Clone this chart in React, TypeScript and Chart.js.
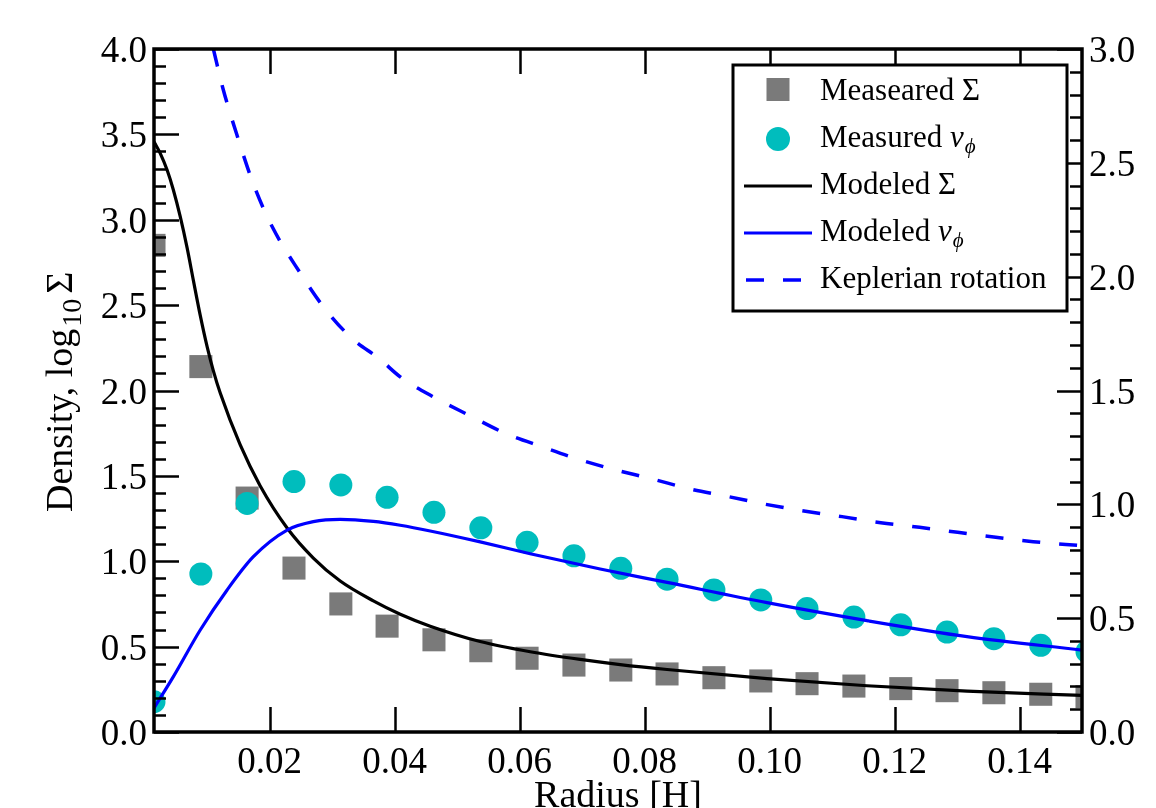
import React, { useEffect, useRef } from "react";
import { Chart, registerables } from "chart.js";

Chart.register(...registerables);

// ---------- data ----------
const radius = [
  0.0015, 0.009, 0.0164, 0.0239, 0.0314, 0.0388, 0.0463, 0.0538, 0.0612, 0.0687, 0.0762,
  0.0836, 0.0911, 0.0986, 0.106, 0.1135, 0.121, 0.1284, 0.1359, 0.1434, 0.1508,
];
const measuredSigma = [
  2.85, 2.14, 1.37, 0.96, 0.75, 0.62, 0.54, 0.476, 0.432, 0.392, 0.363, 0.34, 0.318, 0.299,
  0.283, 0.269, 0.254, 0.242, 0.23, 0.221, 0.207,
];
const measuredVphi = [
  0.133, 0.694, 1.004, 1.1, 1.085, 1.031, 0.965, 0.897, 0.833, 0.774, 0.719, 0.671, 0.624,
  0.58, 0.542, 0.505, 0.471, 0.439, 0.41, 0.381, 0.353,
];

const modelSigmaR = [
  0.0015, 0.0025, 0.0036, 0.0046, 0.0057, 0.0068, 0.0078, 0.0089, 0.01, 0.011, 0.0121,
  0.0153, 0.0185, 0.0228, 0.027, 0.0313, 0.0366, 0.0409, 0.0457, 0.0537, 0.0617, 0.0697,
  0.0761, 0.0836, 0.0996, 0.1156, 0.1316, 0.15,
];
const modelSigmaVal = [
  3.457, 3.389, 3.291, 3.174, 3.018, 2.835, 2.645, 2.44, 2.257, 2.115, 1.985, 1.681, 1.441,
  1.195, 1.019, 0.884, 0.768, 0.69, 0.62, 0.53, 0.47, 0.425, 0.395, 0.366, 0.313, 0.271,
  0.239, 0.214,
];

const modelVphiR = [
  0.0015, 0.0046, 0.0089, 0.0132, 0.0174, 0.0228, 0.027, 0.0313, 0.0366, 0.0409, 0.0457,
  0.0537, 0.0617, 0.0729, 0.0836, 0.0996, 0.1156, 0.1316, 0.15,
];
const modelVphiVal = [
  0.105, 0.243, 0.448, 0.624, 0.77, 0.887, 0.924, 0.934, 0.925, 0.908, 0.883, 0.835, 0.783,
  0.716, 0.657, 0.568, 0.489, 0.419, 0.36,
];

const keplerR = [
  0.011, 0.0125, 0.0148, 0.0175, 0.0204, 0.0249, 0.0286, 0.0329, 0.0377, 0.0409, 0.046,
  0.052, 0.0577, 0.0636, 0.0694, 0.075, 0.0813, 0.0873, 0.0934, 0.0994, 0.1055, 0.1116,
  0.1178, 0.124, 0.1301, 0.1362, 0.1422, 0.15,
];
const keplerVal = [
  3.0, 2.83, 2.62, 2.4, 2.22, 2.016, 1.868, 1.736, 1.636, 1.56, 1.475, 1.39, 1.312, 1.253,
  1.198, 1.154, 1.111, 1.067, 1.034, 1.0, 0.971, 0.946, 0.919, 0.899, 0.877, 0.855, 0.836,
  0.818,
];

const xTicks = [0.02, 0.04, 0.06, 0.08, 0.1, 0.12, 0.14];
const xTickLabels = ["0.02", "0.04", "0.06", "0.08", "0.10", "0.12", "0.14"];
const yLeftTicks = [0, 0.5, 1, 1.5, 2, 2.5, 3, 3.5, 4];
const yLeftTickLabels = ["0.0", "0.5", "1.0", "1.5", "2.0", "2.5", "3.0", "3.5", "4.0"];
const yRightTicks = [0, 0.5, 1, 1.5, 2, 2.5, 3];
const yRightTickLabels = ["0.0", "0.5", "1.0", "1.5", "2.0", "2.5", "3.0"];

const xTitle = "Radius [H]";
const yTitleMain = "Density, log";
const yTitleSub = "10";
const yTitleEnd = "Σ";

const legendMeasSigma = "Measeared Σ";
const legendMeasV = "Measured ";
const legendModSigma = "Modeled Σ";
const legendModV = "Modeled ";
const legendKepler = "Keplerian rotation";

const GRAY = "#7a7a7a";
const CYAN = "#00bdbd";
const BLUE = "#0000ff";
const SERIF = "'Liberation Serif', 'Times New Roman', serif";

const toPoints = (xs: number[], ys: number[]) => xs.map((x, i) => ({ x, y: ys[i] }));

const framePlugin = {
  id: "xmgraceFrame",
  afterDraw(chart: any) {
    const { ctx, chartArea: a, scales } = chart;
    const sx = scales.x;
    const sl = scales.y;
    const sr = scales.y2;
    ctx.save();

    // tick marks (inward)
    ctx.strokeStyle = "#000";
    ctx.lineWidth = 2.5;
    ctx.beginPath();
    for (const t of xTicks) {
      const px = Math.round(sx.getPixelForValue(t)) + 0.5;
      ctx.moveTo(px, a.bottom);
      ctx.lineTo(px, a.bottom - 25);
      ctx.moveTo(px, a.top);
      ctx.lineTo(px, a.top + 25);
    }
    for (let i = 0; i <= 40; i++) {
      const v = i / 10;
      const major = i % 5 === 0;
      const py = Math.round(sl.getPixelForValue(v)) + 0.5;
      ctx.moveTo(a.left, py);
      ctx.lineTo(a.left + (major ? 25 : 12), py);
    }
    for (let i = 0; i <= 30; i++) {
      const v = i / 10;
      const major = i % 5 === 0;
      const py = Math.round(sr.getPixelForValue(v)) + 0.5;
      ctx.moveTo(a.right, py);
      ctx.lineTo(a.right - (major ? 25 : 12), py);
    }
    ctx.stroke();

    // frame
    ctx.lineWidth = 3.5;
    ctx.strokeRect(a.left, a.top, a.right - a.left, a.bottom - a.top);

    // tick labels
    ctx.fillStyle = "#000";
    ctx.font = `37px ${SERIF}`;
    ctx.textBaseline = "alphabetic";
    ctx.textAlign = "center";
    xTicks.forEach((t, i) => {
      ctx.fillText(xTickLabels[i], sx.getPixelForValue(t), 773);
    });
    ctx.textAlign = "right";
    yLeftTicks.forEach((t, i) => {
      ctx.fillText(yLeftTickLabels[i], a.left - 7, sl.getPixelForValue(t) + 13);
    });
    ctx.textAlign = "left";
    yRightTicks.forEach((t, i) => {
      ctx.fillText(yRightTickLabels[i], a.right + 7, sr.getPixelForValue(t) + 13);
    });

    // axis titles
    ctx.font = `38px ${SERIF}`;
    ctx.textAlign = "center";
    ctx.fillText(xTitle, (a.left + a.right) / 2, 807);

    ctx.save();
    ctx.translate(72, 512);
    ctx.rotate(-Math.PI / 2);
    ctx.textAlign = "left";
    ctx.font = `38px ${SERIF}`;
    ctx.fillText(yTitleMain, 0, 0);
    let off = ctx.measureText(yTitleMain).width + 2;
    ctx.font = `28px ${SERIF}`;
    ctx.fillText(yTitleSub, off, 9);
    off += ctx.measureText(yTitleSub).width + 5;
    ctx.font = `38px ${SERIF}`;
    ctx.fillText(yTitleEnd, off, 0);
    ctx.restore();

    // legend box
    const L = 733, T = 65, R = 1067, B = 311;
    ctx.fillStyle = "#fff";
    ctx.fillRect(L, T, R - L, B - T);
    ctx.strokeStyle = "#000";
    ctx.lineWidth = 3;
    ctx.strokeRect(L, T, R - L, B - T);

    const tx = 820;
    const rows = [100, 147, 194, 241, 288];
    ctx.fillStyle = GRAY;
    ctx.fillRect(778 - 11.5, rows[0] - 10.5 - 11.5, 23, 23);
    ctx.fillStyle = CYAN;
    ctx.beginPath();
    ctx.arc(778, rows[1] - 8, 12, 0, Math.PI * 2);
    ctx.fill();
    ctx.lineWidth = 3.2;
    ctx.strokeStyle = "#000";
    ctx.beginPath();
    ctx.moveTo(744, rows[2] - 8);
    ctx.lineTo(812, rows[2] - 8);
    ctx.stroke();
    ctx.strokeStyle = BLUE;
    ctx.beginPath();
    ctx.moveTo(744, rows[3] - 8);
    ctx.lineTo(812, rows[3] - 8);
    ctx.stroke();
    ctx.lineWidth = 3.5;
    ctx.setLineDash([18, 19]);
    ctx.beginPath();
    ctx.moveTo(746, rows[4] - 8);
    ctx.lineTo(802, rows[4] - 8);
    ctx.stroke();
    ctx.setLineDash([]);

    ctx.fillStyle = "#000";
    ctx.textAlign = "left";
    const drawV = (prefix: string, y: number) => {
      ctx.font = `31px ${SERIF}`;
      ctx.fillText(prefix, tx, y);
      let w = ctx.measureText(prefix).width;
      ctx.font = `italic 31px ${SERIF}`;
      ctx.fillText("v", tx + w, y);
      w += ctx.measureText("v").width;
      ctx.font = `italic 21px ${SERIF}`;
      ctx.fillText("ϕ", tx + w + 1, y + 6);
    };
    ctx.font = `31px ${SERIF}`;
    ctx.fillText(legendMeasSigma, tx, rows[0]);
    drawV(legendMeasV, rows[1]);
    ctx.font = `31px ${SERIF}`;
    ctx.fillText(legendModSigma, tx, rows[2]);
    drawV(legendModV, rows[3]);
    ctx.font = `31px ${SERIF}`;
    ctx.fillText(legendKepler, tx, rows[4]);

    ctx.restore();
  },
};

export default function App() {
  const canvasRef = useRef<HTMLCanvasElement | null>(null);

  useEffect(() => {
    const canvas = canvasRef.current;
    if (!canvas) return;
    const chart = new Chart(canvas, {
      type: "line",
      data: {
        datasets: [
          {
            label: "Keplerian rotation",
            data: toPoints(keplerR, keplerVal),
            yAxisID: "y2",
            borderColor: BLUE,
            borderWidth: 3.5,
            borderDash: [18, 19],
            pointRadius: 0,
            fill: false,
            cubicInterpolationMode: "monotone",
            clip: 0,
          },
          {
            label: "Modeled v",
            data: toPoints(modelVphiR, modelVphiVal),
            yAxisID: "y2",
            borderColor: BLUE,
            borderWidth: 3.2,
            pointRadius: 0,
            fill: false,
            cubicInterpolationMode: "monotone",
            clip: 0,
          },
          {
            label: "Modeled Sigma",
            data: toPoints(modelSigmaR, modelSigmaVal),
            yAxisID: "y",
            borderColor: "#000",
            borderWidth: 3.2,
            pointRadius: 0,
            fill: false,
            cubicInterpolationMode: "monotone",
            clip: 0,
          },
          {
            label: "Measured v",
            data: toPoints(radius, measuredVphi),
            yAxisID: "y2",
            showLine: false,
            pointStyle: "circle",
            pointRadius: 11.5,
            pointBorderWidth: 0,
            pointBackgroundColor: CYAN,
            pointBorderColor: CYAN,
            clip: 0,
          },
          {
            label: "Measeared Sigma",
            data: toPoints(radius, measuredSigma),
            yAxisID: "y",
            showLine: false,
            pointStyle: "rect",
            pointRadius: 16.3,
            pointBorderWidth: 0,
            pointBackgroundColor: GRAY,
            pointBorderColor: GRAY,
            clip: 0,
          },
        ],
      },
      options: {
        responsive: false,
        maintainAspectRatio: false,
        devicePixelRatio: 1,
        animation: false,
        events: [],
        layout: { padding: { left: 154, right: 74, top: 49, bottom: 76 } },
        plugins: { legend: { display: false }, tooltip: { enabled: false } },
        scales: {
          x: { type: "linear", min: 0.0015, max: 0.15, display: false },
          y: { type: "linear", min: 0, max: 4, display: false },
          y2: { type: "linear", min: 0, max: 3, display: false, position: "right" },
        },
      },
      plugins: [framePlugin],
    } as any);
    return () => chart.destroy();
  }, []);

  return (
    <div
      style={{
        position: "fixed",
        left: 0,
        top: 0,
        width: 1156,
        height: 808,
        background: "#fff",
        overflow: "hidden",
      }}
    >
      <canvas ref={canvasRef} width={1156} height={808} style={{ display: "block", width: 1156, height: 808 }} />
    </div>
  );
}
